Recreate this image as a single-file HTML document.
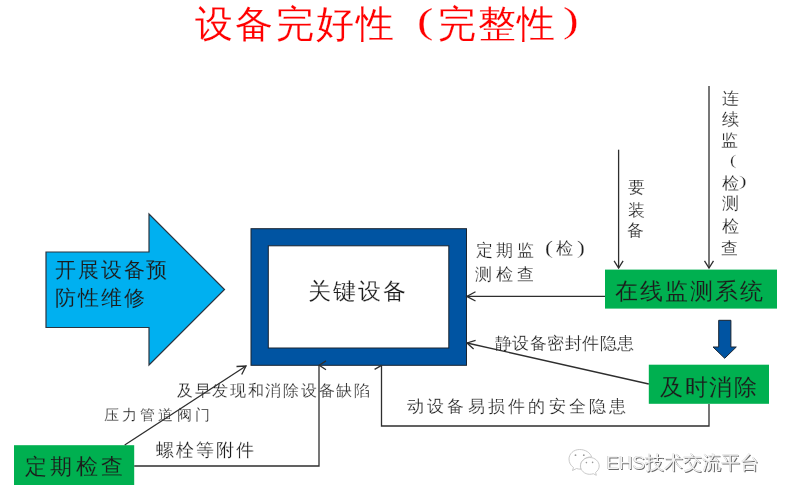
<!DOCTYPE html>
<html><head><meta charset="utf-8"><style>
html,body{margin:0;padding:0;background:#fff;width:795px;height:487px;overflow:hidden}
body{position:relative;font-family:"Liberation Sans",sans-serif}
svg{position:absolute;left:0;top:0}
.t{position:absolute;white-space:nowrap;will-change:transform}
</style></head><body>
<svg width="795" height="487" viewBox="0 0 795 487">
<polygon points="46,252 149,252 149,214 224.5,289.5 149,365 149,327.5 46,327.5" fill="#00b0f0" stroke="#2b3440" stroke-width="1.2"/>
<rect x="251" y="228.7" width="215.5" height="136.6" fill="#0054a2" stroke="#1a2430" stroke-width="1"/>
<rect x="268.3" y="245.8" width="180.5" height="102.2" fill="#fff" stroke="#1a2430" stroke-width="1"/>
<rect x="605" y="269.6" width="172" height="39" fill="#00b050"/>
<rect x="648.8" y="364.7" width="120.2" height="39.1" fill="#00b050"/>
<rect x="14" y="445.2" width="120.2" height="39.8" fill="#00b050"/>
<polygon points="718.7,320.3 730.9,320.3 730.9,347 736.3,347 724.7,358.3 713,347 718.7,347" fill="#0054a2" stroke="#1a2430" stroke-width="1"/>
</svg>
<div class="t" id="t1" style="left:195.2px;top:5.0px;font-size:38.0px;line-height:38.0px;letter-spacing:2.25px;color:#ff0000;-webkit-text-stroke:0.2px #fff">设备完好性</div>
<div class="t" id="t1p1" style="left:417.0px;top:5.2px;font-size:34.89px;line-height:34.89px;letter-spacing:0.0px;font-family:'Liberation Serif',serif;color:#ff0000;-webkit-text-stroke:0.2px #fff;transform:scaleX(1.42);transform-origin:0 0">(</div>
<div class="t" id="t1b" style="left:438.4px;top:5.0px;font-size:38.0px;line-height:38.0px;letter-spacing:1.7px;color:#ff0000;-webkit-text-stroke:0.2px #fff">完整性</div>
<div class="t" id="t1p2" style="left:563.2px;top:4.0px;font-size:34.89px;line-height:34.89px;letter-spacing:0.0px;font-family:'Liberation Serif',serif;color:#ff0000;-webkit-text-stroke:0.2px #fff;transform:scaleX(1.34);transform-origin:0 0">)</div>
<div class="t" id="t2a" style="left:55.2px;top:259.2px;font-size:21.04px;line-height:21.04px;letter-spacing:1.85px;color:#1c1c1c;-webkit-text-stroke:0.12px #00b0f0">开展设备预</div>
<div class="t" id="t2b" style="left:55.0px;top:287.0px;font-size:21.01px;line-height:21.01px;letter-spacing:1.87px;color:#1c1c1c;-webkit-text-stroke:0.12px #00b0f0">防性维修</div>
<div class="t" id="t3" style="left:308.4px;top:279.8px;font-size:23.4px;line-height:23.4px;letter-spacing:1.93px;color:#1c1c1c;-webkit-text-stroke:0.2px #fff">关键设备</div>
<div class="t" id="t4a" style="left:476.0px;top:242.6px;font-size:16.57px;line-height:16.57px;letter-spacing:3.3px;color:#1c1c1c;-webkit-text-stroke:0.2px #fff">定期监</div>
<div class="t" id="t4p1" style="left:544.8px;top:238.8px;font-size:18.22px;line-height:18.22px;letter-spacing:0.0px;font-family:'Liberation Serif',serif;color:#1c1c1c;-webkit-text-stroke:0.2px #fff;transform:scaleX(1.31);transform-origin:0 0">(</div>
<div class="t" id="t4c" style="left:556.2px;top:240.6px;font-size:16.57px;line-height:16.57px;letter-spacing:0.0px;color:#1c1c1c;-webkit-text-stroke:0.2px #fff">检</div>
<div class="t" id="t4p2" style="left:577.0px;top:238.8px;font-size:18.22px;line-height:18.22px;letter-spacing:0.0px;font-family:'Liberation Serif',serif;color:#1c1c1c;-webkit-text-stroke:0.2px #fff;transform:scaleX(1.29);transform-origin:0 0">)</div>
<div class="t" id="t4b" style="left:475.0px;top:265.6px;font-size:17.26px;line-height:17.26px;letter-spacing:3.8px;color:#1c1c1c;-webkit-text-stroke:0.2px #fff">测检查</div>
<div class="t" id="t7" style="left:615.4px;top:280.6px;font-size:22.58px;line-height:22.58px;letter-spacing:2.04px;color:#1c1c1c;-webkit-text-stroke:0.15px #00b050">在线监测系统</div>
<div class="t" id="t8" style="left:495.2px;top:336.0px;font-size:16.57px;line-height:16.57px;letter-spacing:0.49px;color:#1c1c1c;-webkit-text-stroke:0.2px #fff">静设备密封件隐患</div>
<div class="t" id="t9" style="left:660.2px;top:376.8px;font-size:22.63px;line-height:22.63px;letter-spacing:1.67px;color:#1c1c1c;-webkit-text-stroke:0.15px #00b050">及时消除</div>
<div class="t" id="t10" style="left:176.6px;top:383.2px;font-size:15.94px;line-height:15.94px;letter-spacing:1.7px;color:#1c1c1c;-webkit-text-stroke:0.2px #fff">及早发现和消除设备缺陷</div>
<div class="t" id="t11" style="left:104.4px;top:407.0px;font-size:15.41px;line-height:15.41px;letter-spacing:3.16px;color:#1c1c1c;-webkit-text-stroke:0.2px #fff">压力管道阀门</div>
<div class="t" id="t12" style="left:406.6px;top:399.4px;font-size:16.6px;line-height:16.6px;letter-spacing:3.22px;color:#1c1c1c;-webkit-text-stroke:0.2px #fff">动设备易损件的安全隐患</div>
<div class="t" id="t13" style="left:155.6px;top:442.4px;font-size:17.53px;line-height:17.53px;letter-spacing:2.1px;color:#1c1c1c;-webkit-text-stroke:0.2px #fff">螺栓等附件</div>
<div class="t" id="t14" style="left:25.2px;top:455.8px;font-size:22.42px;line-height:22.42px;letter-spacing:3.33px;color:#1c1c1c;-webkit-text-stroke:0.15px #00b050">定期检查</div>
<div class="t" id="v1" style="left:627.8px;top:179.2px;font-size:17.2px;line-height:17.2px;letter-spacing:0.0px;color:#1c1c1c;-webkit-text-stroke:0.2px #fff">要</div>
<div class="t" id="v2" style="left:627.6px;top:201.6px;font-size:17.2px;line-height:17.2px;letter-spacing:0.0px;color:#1c1c1c;-webkit-text-stroke:0.2px #fff">装</div>
<div class="t" id="v3" style="left:626.8px;top:222.4px;font-size:17.2px;line-height:17.2px;letter-spacing:0.0px;color:#1c1c1c;-webkit-text-stroke:0.2px #fff">备</div>
<div class="t" id="w1" style="left:722.0px;top:91.2px;font-size:16.7px;line-height:16.7px;letter-spacing:0.0px;color:#1c1c1c;-webkit-text-stroke:0.2px #fff">连</div>
<div class="t" id="w2" style="left:722.0px;top:112.2px;font-size:16.7px;line-height:16.7px;letter-spacing:0.0px;color:#1c1c1c;-webkit-text-stroke:0.2px #fff">续</div>
<div class="t" id="w3" style="left:720.8px;top:132.6px;font-size:16.7px;line-height:16.7px;letter-spacing:0.0px;color:#1c1c1c;-webkit-text-stroke:0.2px #fff">监</div>
<div class="t" id="w4" style="left:730.0px;top:153.2px;font-size:14.56px;line-height:14.56px;letter-spacing:0.0px;font-family:'Liberation Serif',serif;color:#1c1c1c;-webkit-text-stroke:0.2px #fff;transform:scaleX(1.29);transform-origin:0 0">(</div>
<div class="t" id="w5" style="left:722.0px;top:175.6px;font-size:16.7px;line-height:16.7px;letter-spacing:0.0px;color:#1c1c1c;-webkit-text-stroke:0.2px #fff">检</div>
<div class="t" id="w6" style="left:739.4px;top:174.0px;font-size:14.56px;line-height:14.56px;letter-spacing:0.0px;font-family:'Liberation Serif',serif;color:#1c1c1c;-webkit-text-stroke:0.2px #fff;transform:scaleX(1.58);transform-origin:0 0">)</div>
<div class="t" id="w7" style="left:722.4px;top:196.4px;font-size:16.7px;line-height:16.7px;letter-spacing:0.0px;color:#1c1c1c;-webkit-text-stroke:0.2px #fff">测</div>
<div class="t" id="w8" style="left:722.0px;top:219.0px;font-size:16.7px;line-height:16.7px;letter-spacing:0.0px;color:#1c1c1c;-webkit-text-stroke:0.2px #fff">检</div>
<div class="t" id="w9" style="left:721.0px;top:241.2px;font-size:16.7px;line-height:16.7px;letter-spacing:0.0px;color:#1c1c1c;-webkit-text-stroke:0.2px #fff">查</div>
<svg width="795" height="487" viewBox="0 0 795 487"><g fill="none" stroke="#2e2e2e" stroke-width="1.3">
<path d="M618.6,149.7 L618.6,268"/>
<path d="M623.1,260.8 L618.6,268.0 L614.1,260.8"/>
<path d="M709,86 L709,268"/>
<path d="M713.5,260.8 L709.0,268.0 L704.5,260.8"/>
<path d="M605,296.4 L466.8,296.4"/>
<path d="M475.5,301.0 L466.8,296.4 L475.5,291.8"/>
<path d="M648.8,384 L467,343"/>
<path d="M473.6,349.1 L467.0,343.0 L475.6,340.3"/>
<path d="M709,404 L709,426 L381.5,426 L381.5,365.5"/>
<path d="M374.6,369.4 L381.5,365.4"/>
<path d="M124.7,445 L246,366"/>
<path d="M236.5,366.5 L246.0,366.0 L241.7,374.5"/>
<path d="M134.2,466 L319,466 L319,365.5"/>
<path d="M326.0,369.7 L319.3,365.3 L326.0,360.9"/>
</g></svg>
<svg width="795" height="487" viewBox="0 0 795 487">
<g fill="#fff" stroke="#c4c4c4" stroke-width="0.9">
<path d="M579.5,449.5 C573.5,449.5 569,454 569,459 C569,462.5 570.5,465.5 573.5,467.5 L572.5,470.5 L576.5,468.5 C578,469 579.5,469.2 581,469.2 C580.6,468.3 580.4,467.3 580.4,466.3 C580.4,461 585,457 590.5,457 C591,457 591.3,457 591.6,457.1 C590.5,452.8 585.5,449.5 579.5,449.5 Z"/>
<path d="M589.8,457.5 C584.5,457.5 580.5,461.5 580.5,466 C580.5,470.5 584.5,474.3 589.8,474.3 C591,474.3 592.2,474.1 593.3,473.7 L596.3,475.3 L595.6,472.4 C597.8,470.8 599.2,468.5 599.2,466 C599.2,461.5 595,457.5 589.8,457.5 Z"/>
</g>
<g fill="#999"><circle cx="575.5" cy="455.2" r="0.9"/><circle cx="583.8" cy="455.2" r="0.9"/><circle cx="586.4" cy="462.6" r="0.8"/><circle cx="592.6" cy="462.4" r="0.8"/></g>
</svg>
<div class="t" style="left:605.8px;top:452.5px;font-size:19px;line-height:19px;color:#f4f4f4;text-shadow:0.9px 0.9px 0.4px #6a6a6a,-0.4px -0.4px 0.4px #bdbdbd">EHS技术交流平台</div>
</body></html>
